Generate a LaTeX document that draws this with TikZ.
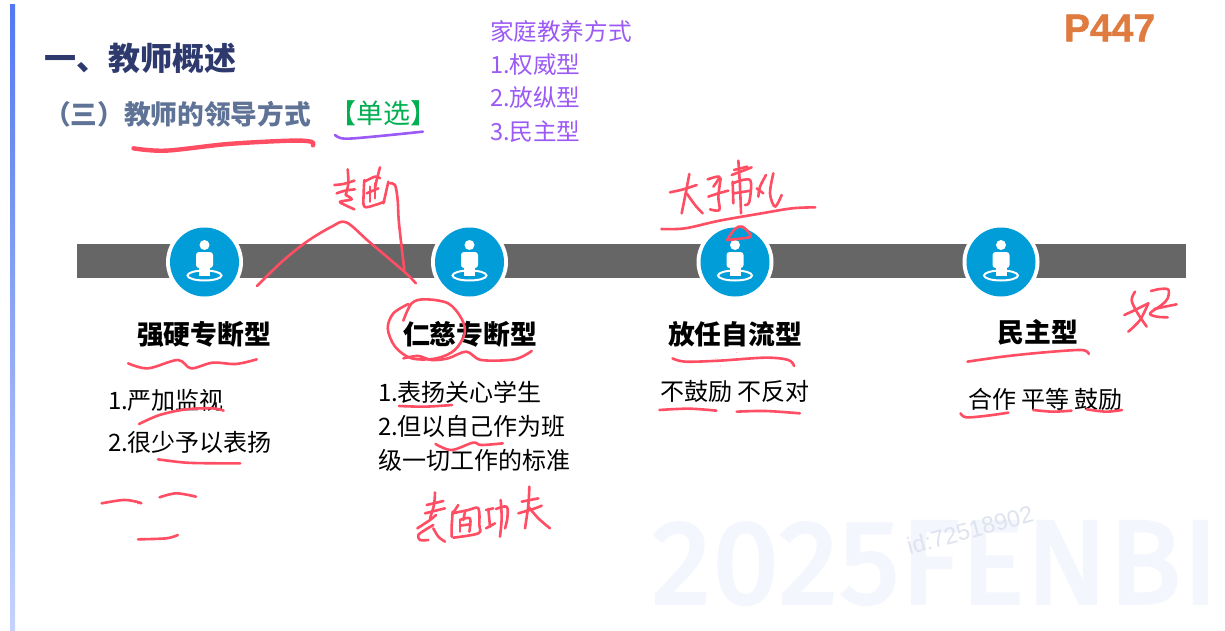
\documentclass[tikz,border=0pt]{standalone}
\usepackage{fontspec}
\setmainfont{Noto Sans CJK SC}
\newfontfamily\latinfont{Liberation Sans}
\newfontfamily\pagefont[FakeBold=1]{Liberation Sans Bold}
\newfontfamily\wmfont[LetterSpace=1.8,FakeBold=3]{Fira Sans}
\definecolor{titleblue}{HTML}{2E3A6E}
\definecolor{subblue}{HTML}{5F7396}
\definecolor{tagreen}{HTML}{00B050}
\definecolor{purp}{HTML}{9B59F5}
\definecolor{inkred}{HTML}{FF4D63}
\definecolor{barGray}{HTML}{666666}
\definecolor{iconBlue}{HTML}{009DD9}
\definecolor{pageOrange}{HTML}{E07B3F}
\definecolor{wmark}{HTML}{F4F6FE}
\definecolor{idgray}{HTML}{DFE3EF}
\definecolor{accentTop}{HTML}{5478F0}
\definecolor{accentBot}{HTML}{C5D3FB}
\tikzset{
  txt/.style={inner sep=0pt,outer sep=0pt,anchor=west,text=black},
  purpletxt/.style={txt,text=purp,font=\fontsize{23.6}{28}\selectfont},
  headtxt/.style={inner sep=0pt,outer sep=0pt,anchor=center,text=black,font=\fontsize{26.8}{32}\selectfont\bfseries},
  bodytxt/.style={txt,font=\fontsize{24}{28}\selectfont},
  ink/.style={draw=inkred,line width=2.6pt,line cap=round,line join=round,fill=none},
  inkthick/.style={ink,line width=4.4pt},
  zoomA/.style={shift={(0,0)},xscale=0.41459,yscale=0.33333},
  zoomB/.style={shift={(620,130)},xscale=0.38265,yscale=0.33333},
  zoomC/.style={shift={(80,290)},xscale=0.33163,yscale=0.33333}
}
\newcommand{\stroke}[2][ink]{\draw[#1] plot[smooth,tension=0.55] coordinates {#2};}
\begin{document}
\begin{tikzpicture}[x=1pt,y=-1pt]
\useasboundingbox (0,0) rectangle (1225,631);
\fill[white] (0,0) rectangle (1225,631);
% left accent bar
\shade[top color=accentTop,bottom color=accentBot] (10,5) rectangle (15,631);
% watermark
\begin{scope}
\clip (0,0) rectangle (1225,631);
\node[inner sep=0pt,anchor=base west,text=wmark,font=\wmfont\fontsize{118}{120}\selectfont] (wm) at (652,603) {2025FENBI};
\end{scope}
\node[inner sep=0pt,rotate=15,text=idgray,font=\latinfont\fontsize{23.5}{26}\selectfont] (idmark) at (970,530) {id:72518902};
% texts top
\node[txt,text=titleblue,font=\fontsize{32}{38}\selectfont\bfseries] (title) at (44,58) {一、教师概述};
\node[txt,text=subblue,font=\fontsize{26.7}{32}\selectfont\bfseries] (subtitle) at (44,114) {（三）教师的领导方式};
\node[txt,text=tagreen,font=\fontsize{27}{32}\selectfont] (tag) at (329,113) {【单选】};
\node[purpletxt] (p0) at (490,31) {家庭教养方式};
\node[purpletxt] (p1) at (490,65) {1.权威型};
\node[purpletxt] (p2) at (490,98) {2.放纵型};
\node[purpletxt] (p3) at (490,132) {3.民主型};
\node[txt,text=pageOrange,font=\pagefont\fontsize{39}{44}\selectfont] (page) at (1064,28) {P447};
% timeline bar
\fill[barGray] (77,244) rectangle (1186,278);
\foreach \cx in {204.5,469.5,735,1001}{
  \fill[white] (\cx,262) ellipse (38.5 and 38);
  \fill[iconBlue] (\cx,262) ellipse (34.5 and 34.5);
  \draw[white,line width=2pt] (\cx,275.5) ellipse (17 and 5);
  \fill[white] (\cx,245) circle (5);
  \fill[white,rounded corners=3pt] (\cx-8.5,252) rectangle (\cx+8.5,268);
  \fill[white] (\cx-5.5,260) rectangle (\cx+5.5,276);
}
% headings
\node[headtxt] (h1) at (204,334) {强硬专断型};
\node[headtxt] (h2) at (470,334) {仁慈专断型};
\node[headtxt] (h3) at (735,334) {放任自流型};
\node[headtxt] (h4) at (1038,332) {民主型};
% bodies
\node[bodytxt] (a1) at (108,400) {1.严加监视};
\node[bodytxt] (a2) at (108,442) {2.很少予以表扬};
\node[bodytxt] (b1) at (378,392) {1.表扬关心学生};
\node[bodytxt] (b2) at (378,426) {2.但以自己作为班};
\node[bodytxt] (b3) at (378,460) {级一切工作的标准};
\node[bodytxt] (c1) at (660,391) {不鼓励 不反对};
\node[bodytxt] (d1) at (968,399) {合作 平等 鼓励};
% ink: title underlines
\begin{scope}[zoomA]
\stroke[inkthick]{(322,445)(400,452)(550,432)(700,422)(750,425)(755,436)}
\draw[draw=purp,line width=2.6pt,line cap=round] plot[smooth,tension=0.55] coordinates {(808,405)(830,416)(900,410)(1020,395)};
\stroke{(620,858)(680,785)(740,725)(800,680)(835,667)(890,725)(975,815)(1003,850)}
\end{scope}
% handwritten zhuanduan
\begin{scope}[shift={(325,160)},scale=0.33333]
\stroke{(28,75)(55,72)(88,62)}
\stroke{(68,28)(70,70)(62,105)}
\stroke{(35,100)(60,92)(90,88)}
\stroke{(62,105)(80,118)(45,125)(60,135)(88,148)}
\stroke{(118,60)(116,100)(118,140)(150,135)(178,125)}
\stroke{(118,65)(150,50)(165,55)}
\stroke{(125,100)(160,85)}
\stroke{(150,70)(150,115)}
\stroke{(135,80)(135,125)}
\stroke{(165,22)(155,60)(150,85)}
\stroke{(190,65)(180,110)(175,130)}
\stroke{(195,70)(210,75)(218,120)(222,190)(238,330)}
\end{scope}
% handwritten above third icon
\begin{scope}[shift={(660,150)},scale=0.33333]
\stroke{(30,127)(70,118)(110,105)}
\stroke{(88,72)(78,125)(65,190)}
\stroke{(80,130)(105,165)(128,190)}
\stroke{(143,88)(178,80)(160,110)}
\stroke{(182,85)(175,140)(178,180)(150,178)}
\stroke{(145,140)(175,130)(205,122)}
\stroke{(235,32)(240,110)(243,190)}
\stroke{(215,75)(255,60)(275,52)}
\stroke{(222,60)(262,50)}
\stroke{(218,95)(220,160)}
\stroke{(218,100)(270,90)(268,155)(255,165)}
\stroke{(222,130)(272,122)}
\stroke{(290,115)(310,130)}
\stroke{(318,75)(300,110)(295,140)}
\stroke{(340,70)(330,130)(345,170)(365,135)}
\end{scope}
\begin{scope}[zoomB]
\stroke{(108,297)(170,295)(260,272)(370,250)(450,235)(510,232)}
\stroke{(280,330)(300,297)(320,290)(342,318)(320,325)(280,330)}
% underlines
\stroke{(137,685)(170,695)(260,692)(380,683)(440,690)(455,708)}
\fill[inkred] (262,708) circle (1) (305,668) circle (1) (250,685) circle (1);
\stroke{(103,840)(180,836)(252,842)}
\stroke{(305,845)(380,843)(470,850)}
\stroke{(908,695)(1000,680)(1100,668)(1205,660)(1225,672)}
\stroke{(890,850)(905,862)(960,857)(1015,848)}
\stroke{(1080,840)(1130,845)(1180,842)}
\stroke{(1220,838)(1270,845)(1312,840)}
\end{scope}
% handwritten hao
\begin{scope}[shift={(1115,285)},scale=0.33333]
\stroke{(60,20)(50,45)(65,80)(95,125)}
\stroke{(28,90)(60,75)(100,55)}
\stroke{(40,140)(75,105)(100,55)}
\stroke{(108,18)(135,12)(160,14)(158,40)(140,60)(105,85)(125,95)(158,97)}
\stroke{(118,72)(150,65)(185,58)}
\end{scope}
\begin{scope}[zoomC]
\stroke{(145,220)(205,235)(295,210)(335,235)(400,218)(470,222)(533,208)}
\stroke{(178,402)(240,375)(320,358)(400,355)(433,362)}
\stroke{(235,508)(320,518)(420,520)(483,520)}
\stroke{(65,640)(130,630)(170,635)(185,640)}
\fill[inkred] (175,641) circle (2.6);
\stroke{(240,622)(290,610)(350,620)}
\fill[inkred] (340,620) circle (2.4);
\stroke{(175,748)(260,745)(295,735)}
\stroke{(975,92)(1000,40)(1040,28)(1110,40)(1150,85)(1160,130)(1130,180)(1075,205)(1000,205)(950,170)(928,115)(945,70)(990,42)}
\stroke{(975,205)(1020,198)(1060,210)(1110,205)(1165,185)(1210,210)(1310,208)(1362,183)}
\stroke{(962,348)(1040,350)(1122,345)}
\stroke{(1072,462)(1120,480)(1185,458)(1210,465)(1275,460)}
\end{scope}
% biaomian gongfu
\begin{scope}[shift={(410,485)},scale=0.33333]
\stroke{(75,22)(72,60)(60,100)}
\stroke{(50,60)(100,48)}
\stroke{(45,85)(105,70)}
\stroke{(22,130)(60,105)(78,90)}
\stroke{(70,120)(45,135)(25,150)(30,165)(55,165)}
\stroke{(70,130)(85,155)(105,170)}
\stroke{(145,60)(135,75)(128,85)}
\stroke{(128,80)(125,125)(125,155)}
\stroke{(128,85)(175,75)(205,70)(208,120)(205,145)(130,158)}
\stroke{(150,105)(150,140)}
\stroke{(150,105)(180,100)(178,140)}
\stroke{(150,122)(180,118)}
\stroke{(165,80)(160,105)}
\stroke{(228,75)(250,70)}
\stroke{(235,72)(240,125)}
\stroke{(228,130)(255,115)}
\stroke{(258,72)(290,65)(292,100)(285,130)}
\stroke{(272,45)(275,100)(270,155)}
\stroke{(335,50)(385,40)}
\stroke{(325,85)(375,70)(395,62)}
\stroke{(358,5)(355,60)(345,130)}
\stroke{(355,65)(385,100)(420,130)}
\end{scope}
\end{tikzpicture}
\end{document}
